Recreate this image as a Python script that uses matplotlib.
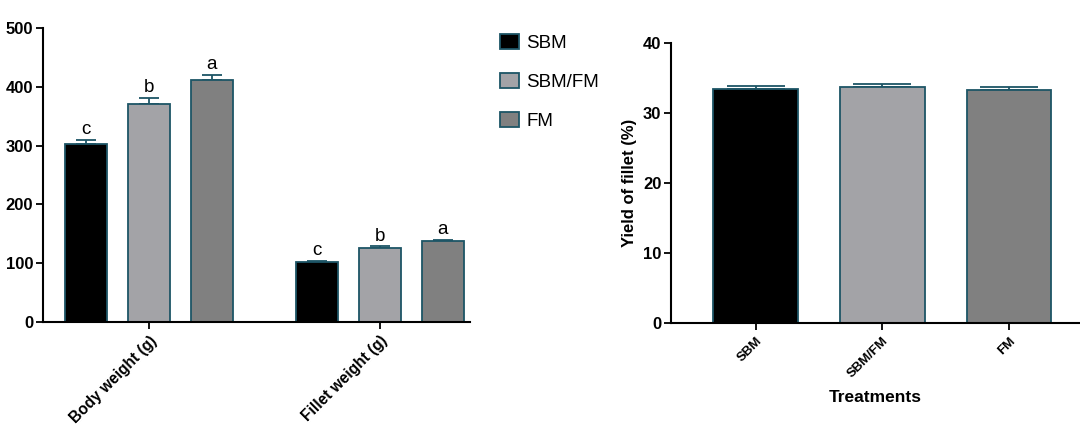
import matplotlib
matplotlib.use("Agg")
import matplotlib.pyplot as plt
import numpy as np
from matplotlib.patches import Patch

plt.rcParams['font.family'] = ['Liberation Sans', 'DejaVu Sans']

treatments = ["SBM", "SBM/FM", "FM"]
groups = ["Body weight (g)", "Fillet weight (g)"]
means = {"SBM": [302, 101.5], "SBM/FM": [371, 126], "FM": [411.5, 137.5]}
errs = {"SBM": [8, 2.5], "SBM/FM": [10, 2.5], "FM": [8.5, 2.5]}
letters = {"SBM": ["c", "c"], "SBM/FM": ["b", "b"], "FM": ["a", "a"]}

yield_means = [33.4, 33.75, 33.25]
yield_errs = [0.4, 0.35, 0.45]

fills = {"SBM": "#000000", "SBM/FM": "#a3a3a7", "FM": "#808080"}
edge = "#1d5566"

fig = plt.figure(figsize=(10.8, 4.24), dpi=100)

# Left chart
ax = fig.add_axes([43/1080, 1-322/424, (470-43)/1080, (322-28)/424])
x = np.arange(len(groups))
offs = [-0.2727, 0, 0.2727]
bw = 0.182
for t, o in zip(treatments, offs):
    ax.bar(x + o, means[t], bw, color=fills[t], edgecolor=edge, linewidth=1.3, zorder=2)
    ax.errorbar(x + o, means[t], yerr=[np.zeros(len(groups)), errs[t]], fmt='none',
                ecolor=edge, elinewidth=1.3, capsize=7.5, capthick=1.3, zorder=1)
    for xi, m, e, l in zip(x + o, means[t], errs[t], letters[t]):
        ax.text(xi, m + e + 3, l, ha='center', va='bottom', fontsize=13.5)
ax.set_xlim(-0.459, 1.39)
ax.set_ylim(0, 500)
ax.set_yticks([0, 100, 200, 300, 400, 500])
ax.set_xticks(x)
ax.set_xticklabels(groups, rotation=45, ha='right', rotation_mode='anchor', fontweight='bold', fontsize=11.2)
for lab in ax.get_yticklabels():
    lab.set_fontweight('bold')
ax.tick_params(axis='y', labelsize=12, width=1.3, length=5, pad=2)
ax.tick_params(axis='x', width=1.3, length=5, pad=3)
for s in ['top', 'right']:
    ax.spines[s].set_visible(False)
for s in ['left', 'bottom']:
    ax.spines[s].set_linewidth(1.5)

handles = [Patch(facecolor=fills[t], edgecolor=edge, linewidth=1.3, label=t) for t in treatments]
fig.legend(handles=handles, loc='upper left', bbox_to_anchor=(483/1080, 1-17/424), frameon=False,
           fontsize=13.5, handlelength=1.0, handleheight=0.85, labelspacing=1.12, handletextpad=0.4)

# Right chart
ax2 = fig.add_axes([671/1080, 1-323.3/424, (1080-671)/1080, (323.3-42.7)/424])
xr = np.arange(len(treatments))
ax2.bar(xr, yield_means, 0.67, color=[fills[t] for t in treatments], edgecolor=edge, linewidth=1.3, zorder=2)
ax2.errorbar(xr, yield_means, yerr=[np.zeros(3), yield_errs], fmt='none', ecolor=edge,
             elinewidth=1.3, capsize=21, capthick=1.3, zorder=1)
ax2.set_xlim(-0.668, 2.56)
ax2.set_ylim(0, 40)
ax2.set_yticks([0, 10, 20, 30, 40])
ax2.set_xticks(xr)
ax2.set_xticklabels(treatments, rotation=45, ha='right', rotation_mode='anchor', fontweight='bold', fontsize=9.5)
for lab in ax2.get_yticklabels():
    lab.set_fontweight('bold')
ax2.tick_params(axis='y', labelsize=12, width=1.3, length=5, pad=2)
ax2.tick_params(axis='x', width=1.3, length=5)
ax2.set_ylabel("Yield of fillet (%)", fontweight='bold', fontsize=12, labelpad=4)
ax2.set_xlabel("Treatments", fontweight='bold', fontsize=12.5, labelpad=7)
for s in ['top', 'right']:
    ax2.spines[s].set_visible(False)
for s in ['left', 'bottom']:
    ax2.spines[s].set_linewidth(1.5)

fig.savefig("out.png", dpi=100)
